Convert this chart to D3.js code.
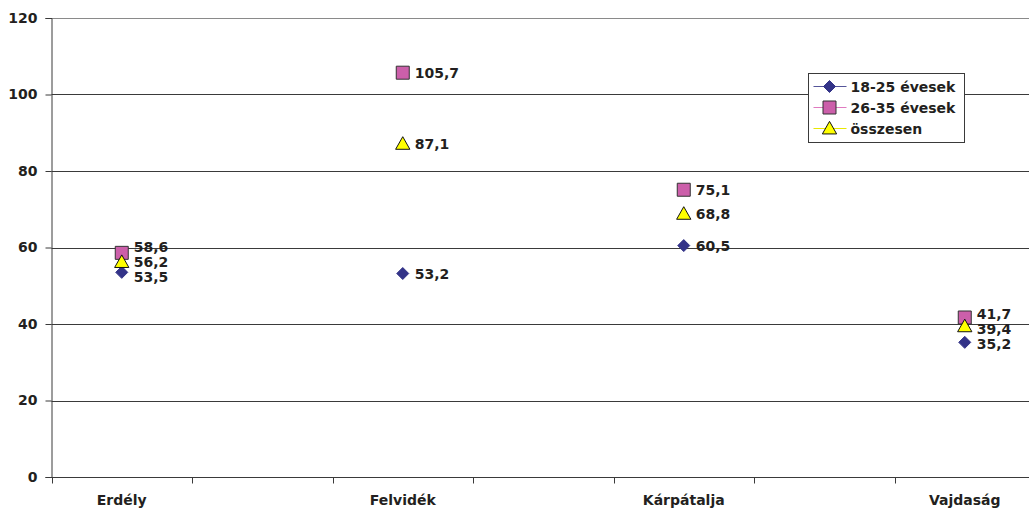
<!DOCTYPE html>
<html>
<head>
<meta charset="utf-8">
<script src="https://cdn.jsdelivr.net/npm/d3@7"></script>
<style>
  html, body { margin: 0; padding: 0; background: #fff; }
  svg { display: block; }
  text { font-family: "DejaVu Sans", "Liberation Sans", Arial, sans-serif; font-weight: bold; fill: #231f20; }
</style>
</head>
<body>
<svg id="chart" width="1029" height="509"></svg>
<script>
// categories (blank slots between regions, as in the source spreadsheet)
const categories = ["Erdély", "", "Felvidék", "", "Kárpátalja", "", "Vajdaság"];
const seriesNames = ["18-25 évesek", "26-35 évesek", "összesen"];
const s18_25 = [53.5, null, 53.2, null, 60.5, null, 35.2];
const s26_35 = [58.6, null, 105.7, null, 75.1, null, 41.7];
const sTotal = [56.2, null, 87.1, null, 68.8, null, 39.4];
const yTicks = [0, 20, 40, 60, 80, 100, 120];

(function () {
const FONT = "DejaVu Sans, Liberation Sans, Arial, sans-serif";
const series = [
  { name: seriesNames[0], values: s18_25, shape: "diamond", fill: "#333388", stroke: "#333388", line: "#555599" },
  { name: seriesNames[1], values: s26_35, shape: "square", fill: "#cc5faa", stroke: "#333333", line: "#e07ac0" },
  { name: seriesNames[2], values: sTotal, shape: "triangle", fill: "#ffff00", stroke: "#111111", line: "#e8e800" }
];

const svg = d3.select("#chart");
const mLeft = 51.5, mBottom = 477, mTop = 18;
const bandW = 140.5;

const x = d3.scaleBand().domain(d3.range(categories.length)).range([mLeft, mLeft + bandW * categories.length]).paddingInner(0).paddingOuter(0);
const y = d3.scaleLinear().domain([0, 120]).range([mBottom, mTop]);

// gridlines
svg.append("g").selectAll("line").data(yTicks.filter(t => t > 0)).join("line")
  .attr("x1", mLeft).attr("x2", 1029)
  .attr("y1", d => Math.round(y(d)) + 0.5).attr("y2", d => Math.round(y(d)) + 0.5)
  .attr("stroke", d => d === 120 ? "#8a8a8a" : "#3a3a3a").attr("stroke-width", 1);

// y axis
const yAxis = svg.append("g").attr("transform", `translate(${mLeft},0)`)
  .call(d3.axisLeft(y).tickValues(yTicks).tickSize(6).tickPadding(8).tickFormat(d3.format("d")));
yAxis.select(".domain").attr("stroke", "#3a3a3a");
yAxis.selectAll(".tick line").attr("stroke", "#3a3a3a");
yAxis.selectAll("text").style("font-size", "14px").style("font-family", FONT).style("font-weight", "bold").attr("fill", "#231f20");

// x axis: ticks at band boundaries
const xg = svg.append("g").attr("transform", `translate(0,${mBottom + 0.5})`);
xg.append("line").attr("x1", mLeft).attr("x2", 1029).attr("stroke", "#3a3a3a");
xg.selectAll("line.tk").data(d3.range(categories.length + 1)).join("line").attr("class", "tk")
  .attr("x1", i => Math.round(mLeft + i * bandW) + 0.5).attr("x2", i => Math.round(mLeft + i * bandW) + 0.5)
  .attr("y1", 0).attr("y2", 6).attr("stroke", "#3a3a3a");
xg.selectAll("text").data(categories.map((c, i) => ({ c, i })).filter(d => d.c)).join("text")
  .attr("x", d => x(d.i) + x.bandwidth() / 2).attr("y", 27)
  .attr("text-anchor", "middle").style("font-size", "14px").text(d => d.c);

// marker path generator
function markerPath(shape, s) {
  if (shape === "diamond") return `M0,${-s}L${s},0L0,${s}L${-s},0Z`;
  if (shape === "square") return `M${-s},${-s}H${s}V${s}H${-s}Z`;
  return `M0,${-s * 1.05}L${s * 1.05},${s * 0.8}L${-s * 1.05},${s * 0.8}Z`;
}
const markerSize = { diamond: 6, square: 6.5, triangle: 6.8 };

// markers
series.forEach(s => {
  svg.append("g").selectAll("path").data(s.values.map((v, i) => ({ v, i })).filter(d => d.v != null)).join("path")
    .attr("transform", d => `translate(${x(d.i) + x.bandwidth() / 2},${y(d.v)})`)
    .attr("d", markerPath(s.shape, markerSize[s.shape]))
    .attr("fill", s.fill).attr("stroke", s.stroke).attr("stroke-width", 1);
});

// data labels with simple overlap relaxation per category
const fmt = v => d3.format(".1f")(v).replace(".", ",");
categories.forEach((c, i) => {
  const labs = series.map(s => s.values[i]).filter(v => v != null)
    .map(v => ({ v, y0: y(v), y: y(v) })).sort((a, b) => a.y0 - b.y0);
  const gap = 15;
  for (let it = 0; it < 100; it++) {
    for (let k = 0; k < labs.length - 1; k++) {
      const d = labs[k + 1].y - labs[k].y;
      if (d < gap) { const m = (gap - d) / 2; labs[k].y -= m; labs[k + 1].y += m; }
    }
  }
  svg.append("g").selectAll("text").data(labs).join("text")
    .attr("x", x(i) + x.bandwidth() / 2 + 12).attr("y", d => d.y).attr("dy", "0.36em")
    .style("font-size", "14px").text(d => fmt(d.v));
});

// legend
const lg = svg.append("g").attr("transform", "translate(808.5,73.5)");
lg.append("rect").attr("width", 156).attr("height", 69).attr("fill", "#fff").attr("stroke", "#3a3a3a");
series.forEach((s, k) => {
  const ry = 13 + k * 21;
  const row = lg.append("g").attr("transform", `translate(0,${ry})`);
  row.append("line").attr("x1", 5).attr("x2", 38).attr("stroke", s.line).attr("stroke-width", 1.2);
  row.append("path").attr("transform", "translate(21,0)").attr("d", markerPath(s.shape, markerSize[s.shape]))
    .attr("fill", s.fill).attr("stroke", s.stroke);
  row.append("text").attr("x", 42).attr("dy", "0.36em").style("font-size", "14px").text(s.name);
});
})();
</script>
</body>
</html>
